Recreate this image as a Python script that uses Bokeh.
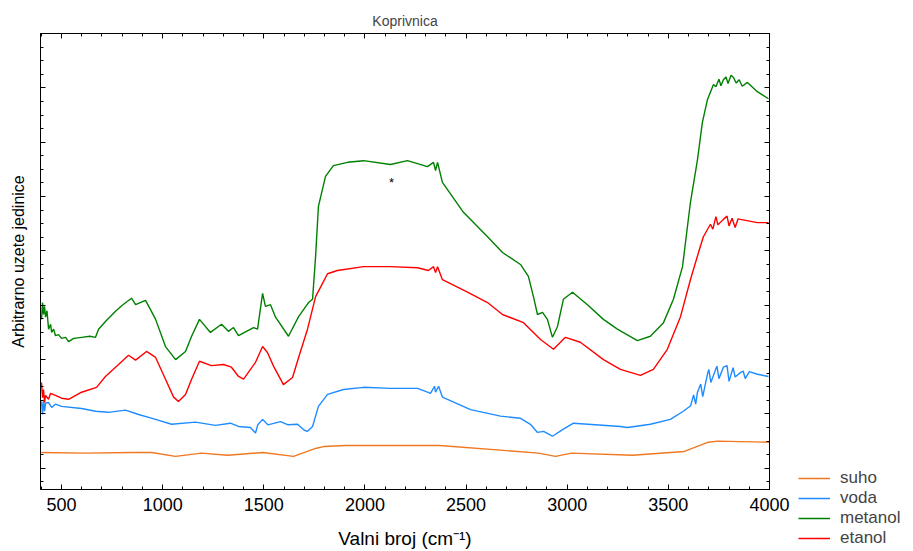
from bokeh.plotting import figure
from bokeh.models import FixedTicker, LinearAxis, Range1d, Legend, LegendItem
from bokeh.layouts import row
from bokeh.embed import file_html
from bokeh.resources import INLINE
from bokeh.core.properties import value

FONT = "Liberation Sans"

series_names = ["suho", "voda", "metanol", "etanol"]
series_colors = ["#F07820", "#1E8CFF", "#008000", "#FF0000"]

suho_x = [400, 619, 851, 945, 1064, 1192, 1321, 1494, 1647, 1691, 1760, 1795, 1904, 2369, 2858, 2942, 3021, 3323, 3579, 3698, 3743, 4000]
suho_y = [2.9, 2.8, 2.9, 2.9, 2.2, 2.8, 2.4, 2.9, 2.2, 2.8, 3.7, 4.0, 4.2, 4.2, 2.8, 2.2, 2.8, 2.4, 3.1, 4.8, 5.0, 4.8]

voda_x = [401, 406, 411, 416, 421, 436, 451, 470, 500, 599, 668, 732, 816, 881, 965, 1044, 1162, 1261, 1335, 1375,
          1434, 1459, 1470, 1494, 1520, 1583, 1620, 1667, 1700, 1716, 1741, 1770, 1815, 1894, 1993, 2126, 2260, 2309, 2324, 2344,
          2349, 2364, 2383, 2522, 2670, 2769, 2818, 2853, 2883, 2927, 2981, 3031, 3263, 3298, 3411, 3510, 3574, 3610, 3625, 3635,
          3644, 3660, 3670, 3693, 3700, 3710, 3740, 3750, 3772, 3790, 3800, 3820, 3830, 3856, 3870, 3880, 3900, 3940, 3995]
voda_y = [12.3, 9.9, 12.5, 10.5, 12.0, 12.1, 11.2, 11.8, 11.4, 11.0, 10.5, 10.3, 10.7, 9.9, 9.0, 8.1, 8.5, 7.9, 8.3, 7.7,
          7.5, 6.5, 8.0, 9.0, 8.0, 8.6, 8.0, 8.1, 7.0, 6.8, 7.7, 11.4, 13.6, 14.5, 14.9, 14.7, 14.7, 14.0, 13.8, 15.1,
          14.0, 15.1, 13.1, 10.8, 9.6, 9.2, 8.1, 6.6, 6.8, 5.9, 7.2, 8.3, 7.7, 7.5, 8.1, 9.0, 10.5, 11.5, 13.5, 11.8,
          14.0, 15.5, 13.2, 17.3, 18.2, 15.8, 18.8, 16.5, 18.6, 18.9, 16.0, 18.5, 16.8, 17.6, 17.9, 16.5, 17.8, 17.3, 16.9]

metanol_x = [401, 406, 411, 416, 421, 428, 436, 446, 451, 461, 470, 485, 500, 520, 535, 560, 600, 640, 668, 683,
             717, 767, 800, 846, 866, 915, 940, 965, 1014, 1064, 1113, 1143, 1182, 1236, 1291, 1325, 1350, 1375, 1449, 1469,
             1494, 1508, 1533, 1558, 1622, 1672, 1721, 1741, 1756, 1770, 1805, 1844, 1914, 1993, 2126, 2210, 2309, 2339, 2349, 2359,
             2383, 2487, 2606, 2680, 2769, 2808, 2833, 2853, 2878, 2902, 2927, 2952, 2981, 3026, 3100, 3179, 3248, 3347, 3411, 3476,
             3525, 3570, 3609, 3644, 3668, 3693, 3723, 3735, 3750, 3760, 3772, 3785, 3795, 3810, 3822, 3835, 3850, 3865, 3891, 3940, 3995]
metanol_y = [27.4, 30.5, 28.3, 29.8, 27.8, 29.0, 25.6, 26.5, 25.0, 25.6, 24.4, 24.6, 23.9, 24.1, 23.3, 23.9, 24.1, 24.3, 24.1, 25.6,
             27.0, 28.9, 30.0, 31.3, 30.1, 30.9, 29.2, 27.4, 22.4, 20.0, 21.5, 24.3, 27.4, 25.0, 26.5, 25.2, 25.9, 24.4, 25.9, 25.6,
             32.2, 29.8, 30.1, 27.8, 24.3, 27.9, 30.5, 31.1, 39.0, 48.2, 53.7, 55.7, 56.3, 56.6, 55.9, 56.6, 55.5, 56.3, 54.8, 56.3,
             52.6, 47.1, 42.6, 39.7, 37.5, 35.3, 31.6, 28.3, 28.7, 27.4, 24.1, 26.1, 31.1, 32.4, 30.1, 27.4, 25.6, 23.5, 24.3, 26.8,
             31.1, 37.1, 48.9, 56.8, 63.6, 67.8, 70.6, 70.2, 71.6, 70.4, 71.5, 72.0, 70.8, 72.3, 71.9, 70.9, 71.5, 70.3, 71.0, 69.3, 68.0]

etanol_x = [401, 406, 411, 416, 421, 436, 446, 470, 500, 535, 599, 673, 717, 782, 831, 866, 920, 965, 1014, 1054,
            1078, 1113, 1143, 1182, 1241, 1301, 1340, 1375, 1400, 1459, 1494, 1518, 1548, 1597, 1642, 1672, 1716, 1756, 1780, 1815,
            1864, 1993, 2126, 2260, 2314, 2339, 2349, 2359, 2383, 2507, 2606, 2680, 2784, 2833, 2868, 2932, 2991, 3065, 3179, 3263,
            3362, 3426, 3495, 3560, 3609, 3649, 3673, 3708, 3720, 3735, 3745, 3772, 3790, 3800, 3815, 3830, 3845, 3856, 3940, 3995]
etanol_y = [15.8, 13.0, 14.5, 12.1, 13.4, 12.7, 13.8, 13.4, 12.9, 12.7, 14.0, 14.9, 16.9, 19.1, 20.8, 19.9, 21.5, 20.4, 16.4, 13.1,
            12.3, 13.6, 16.4, 19.7, 18.9, 19.1, 18.6, 16.9, 16.4, 19.5, 22.4, 21.3, 18.8, 15.4, 16.7, 20.4, 25.6, 31.6, 33.3, 35.8,
            36.4, 37.1, 37.1, 36.9, 36.4, 37.1, 36.0, 37.1, 34.7, 32.4, 30.5, 28.3, 26.8, 25.0, 23.7, 21.9, 24.1, 23.2, 20.0, 18.2,
            17.1, 18.2, 21.9, 27.9, 34.7, 39.7, 42.6, 44.9, 44.0, 46.3, 44.8, 45.8, 46.4, 44.6, 46.0, 44.3, 45.9, 45.8, 45.2, 45.2]

star_x = [2131]
star_y = [52.6]

x_major = [500, 1000, 1500, 2000, 2500, 3000, 3500, 4000]
x_minor = list(range(400, 4001, 100))
y_major = [0, 10, 20, 30, 40, 50, 60, 70, 80]
y_minor = [v * 2.5 for v in range(-1, 33)]

p = figure(width=790, height=551, x_range=Range1d(396, 4000), y_range=Range1d(-3.9, 80),
           output_backend="svg", toolbar_location=None, title="Koprivnica",
           min_border_left=40, min_border_right=21, min_border_top=33, min_border_bottom=61)
p.title.align = "center"
p.title.text_font = FONT
p.title.text_font_size = "14px"
p.title.text_font_style = "normal"
p.title.standoff = 9
p.grid.visible = False
p.outline_line_color = "black"
p.outline_line_width = 1
p.background_fill_color = "white"
p.border_fill_color = "white"

xt = FixedTicker(ticks=x_major, minor_ticks=x_minor)
yt = FixedTicker(ticks=y_major, minor_ticks=y_minor)

def style_axis(ax, labels=True):
    ax.axis_line_color = "black"
    ax.major_tick_in = 5
    ax.major_tick_out = 0
    ax.minor_tick_in = 3
    ax.minor_tick_out = 0
    ax.major_tick_line_color = "black"
    ax.minor_tick_line_color = "black"
    ax.major_label_text_font = FONT
    ax.axis_label_text_font = FONT
    ax.axis_label_text_font_style = "normal"
    ax.major_label_text_color = "black"
    ax.axis_label_text_color = "black"
    if not labels:
        ax.major_label_text_color = None
        ax.major_label_text_font_size = "1px"
        ax.major_label_standoff = 0

p.xaxis.ticker = xt
p.yaxis.ticker = yt
style_axis(p.xaxis[0])
style_axis(p.yaxis[0], labels=False)
p.xaxis.major_label_text_font_size = "18px"
p.xaxis.major_label_standoff = 8
p.xaxis.axis_label = "Valni broj (cm\u207b\u00b9)"
p.xaxis.axis_label_text_font_size = "19px"
p.xaxis.axis_label_standoff = 14
p.yaxis.axis_label = "Arbitrarno uzete jedinice"
p.yaxis.axis_label_text_font_size = "16px"
p.yaxis.axis_label_standoff = 14

top = LinearAxis(ticker=xt)
style_axis(top, labels=False)
p.add_layout(top, "above")
right = LinearAxis(ticker=yt)
style_axis(right, labels=False)
p.add_layout(right, "right")

renderers = []
for xs, ys, c in [(suho_x, suho_y, series_colors[0]), (voda_x, voda_y, series_colors[1]),
                  (metanol_x, metanol_y, series_colors[2]), (etanol_x, etanol_y, series_colors[3])]:
    renderers.append(p.line(xs, ys, line_color=c, line_width=1.4))

p.text(x=star_x, y=star_y, text=["*"], text_font=value(FONT), text_font_size="13px",
       text_align="center", text_baseline="middle", text_color="black")

# separate panel for the legend, to the right of the plot
pl = figure(width=123, height=551, output_backend="svg", toolbar_location=None,
            x_axis_type=None, y_axis_type=None, x_range=Range1d(0, 1), y_range=Range1d(0, 1),
            min_border_left=0, min_border_right=0, min_border_top=0, min_border_bottom=0)
pl.frame_align = False
pl.outline_line_color = None
pl.grid.visible = False
pl.background_fill_color = "white"
pl.border_fill_color = "white"
dummy = [pl.line([-5, -4], [-5, -4], line_color=c, line_width=1.4) for c in series_colors]

legend = Legend(items=[LegendItem(label=n, renderers=[r]) for n, r in zip(series_names, dummy)],
                location=(8, 3), orientation="vertical", border_line_alpha=0, background_fill_alpha=0,
                padding=0, margin=0, spacing=0, label_text_font=FONT, label_text_font_size="17px",
                glyph_width=32, glyph_height=20, label_height=20, label_standoff=10)
pl.add_layout(legend)

layout = row(p, pl, spacing=0)
open("out.html", "w").write(file_html(layout, INLINE))
